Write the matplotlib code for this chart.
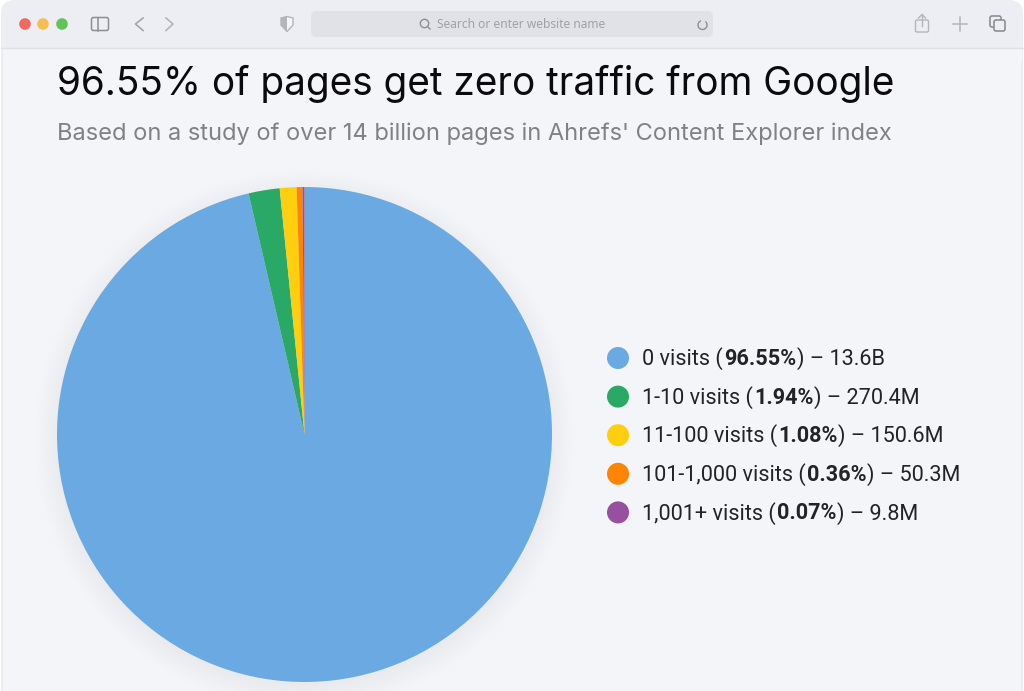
import matplotlib
matplotlib.use("Agg")
import matplotlib.pyplot as plt
from matplotlib.patches import Arc, Circle, FancyBboxPatch, Rectangle, Polygon

# Data
buckets = ["0 visits", "1-10 visits", "11-100 visits", "101-1,000 visits", "1,001+ visits"]
# wedge sizes as measured on the drawn pie, slightly off the printed labels
shares = [96.37, 2.03, 1.09, 0.38, 0.13]
share_labels = ["96.55%", "1.94%", "1.08%", "0.36%", "0.07%"]
page_counts = ["13.6B", "270.4M", "150.6M", "50.3M", "9.8M"]
colors = ["#6AA9E2", "#2AA866", "#FFCE0E", "#FF8400", "#96509F"]

title = "96.55% of pages get zero traffic from Google"
subtitle = "Based on a study of over 14 billion pages in Ahrefs' Content Explorer index"

W, H = 1024, 691
fig = plt.figure(figsize=(W / 100, H / 100), dpi=100, facecolor="white")

# Overlay in pixel coordinates for the window, texts and legend
bg = fig.add_axes([0, 0, 1, 1])
bg.set_xlim(0, W)
bg.set_ylim(H, 0)
bg.axis("off")

# Browser window
bg.add_patch(FancyBboxPatch((2, 2), W - 4, H + 30, boxstyle="round,pad=0,rounding_size=14",
                            fc="#F4F5F8", ec="#E6E7EB", lw=1))
bg.add_patch(FancyBboxPatch((1, 0), W - 2, 60, boxstyle="round,pad=0,rounding_size=14",
                            fc="#EDEEF3", ec="none"))
bg.add_patch(Rectangle((2.5, 48), W - 5, 14, fc="#F4F5F8", ec="none"))
bg.plot([1, W - 1], [48, 48], color="#E0E1E5", lw=1)

# Traffic lights
for x, c in zip([25, 43, 62], ["#EE6A5F", "#F5BE4F", "#61C454"]):
    bg.add_patch(Circle((x, 24), 5.8, fc=c, ec="none"))

icon = "#8E8F94"
light = "#B4B5BA"
# Sidebar icon
bg.add_patch(FancyBboxPatch((91.5, 17.5), 17, 13, boxstyle="round,pad=0,rounding_size=2",
                            fc="none", ec=icon, lw=1.1))
bg.plot([98, 98], [17.5, 30.5], color=icon, lw=1.1)
# Back and forward
bg.plot([143, 135.5, 143], [18, 24, 30.5], color="#A5A6AB", lw=1.2)
bg.plot([166, 173, 166], [18, 24, 30.5], color=light, lw=1.2)
# Shield
bg.add_patch(Polygon([(281, 18), (287, 16.5), (293, 18), (293, 25), (287, 31.5), (281, 25)],
                     fc="#F4F5F8", ec=light, lw=1))
bg.add_patch(Polygon([(281, 18), (287, 16.5), (287, 31.5), (281, 25)], fc=light, ec="none"))
# Address bar
bg.add_patch(FancyBboxPatch((311, 11), 402, 26, boxstyle="round,pad=0,rounding_size=5",
                            fc="#E1E2E7", ec="none"))
bg.add_patch(Circle((424.5, 23.5), 4.2, fc="none", ec=icon, lw=1))
bg.plot([427.5, 430], [26.5, 29], color=icon, lw=1)
bg.text(437, 24.5, "Search or enter website name", fontsize=8.6, color="#A0A1A6",
        family="Noto Sans", va="center", ha="left")
bg.add_patch(Arc((702.5, 25), 9, 9, theta1=-50, theta2=250, ec=icon, lw=1))
# Share, plus, tabs
bg.add_patch(FancyBboxPatch((915.5, 20), 13, 12, boxstyle="round,pad=0,rounding_size=1.5",
                            fc="none", ec=light, lw=1))
bg.plot([922, 922], [14, 26], color=light, lw=1)
bg.plot([918.5, 922, 925.5], [18, 14.5, 18], color=light, lw=1)
bg.plot([953, 967], [24, 24], color=light, lw=1.1)
bg.plot([960, 960], [17, 31], color=light, lw=1.1)
bg.add_patch(FancyBboxPatch((990, 16), 11, 11, boxstyle="round,pad=0,rounding_size=2",
                            fc="none", ec=icon, lw=1.2))
bg.add_patch(FancyBboxPatch((994, 20), 11, 11, boxstyle="round,pad=0,rounding_size=2",
                            fc="#EDEEF3", ec=icon, lw=1.2))

# Headings
bg.text(57, 83.5, title, fontsize=27.9, color="#0B0B0D", family="Inter", va="center", ha="left")
bg.text(57, 134, subtitle, fontsize=17, color="#7F8184", family="Inter", va="center", ha="left")

# Soft shadow below the pie
cx, cy, r = 304.5, 434.5, 247.5
for i in range(12):
    bg.add_patch(Circle((cx, cy + 5), r + 22 - i * 2.4, fc="#000000", alpha=0.0035, ec="none"))

# Pie
ax = fig.add_axes([(cx - r) / W, 1 - (cy + r) / H, 2 * r / W, 2 * r / H])
ax.pie(shares, colors=colors, startangle=90, counterclock=False, radius=1,
       wedgeprops={"linewidth": 0})
ax.set_xlim(-1, 1)
ax.set_ylim(-1, 1)

# Legend with bold shares, built piece by piece
fig.canvas.draw()
renderer = fig.canvas.get_renderer()
y0, step = 358, 38.6
for i in range(len(buckets)):
    y = y0 + i * step
    bg.add_patch(Circle((618, y), 11, fc=colors[i], ec="none"))
    x = 642
    parts = [(buckets[i] + " (", "normal"), (share_labels[i], "bold"),
             (") – " + page_counts[i], "normal")]
    for s, weight in parts:
        t = bg.text(x, y + 7, s, fontsize=15.6, color="#222326", family="Roboto",
                    fontweight=weight, va="baseline", ha="left")
        x += t.get_window_extent(renderer).width + 1

fig.savefig("out.png", dpi=100, facecolor="white")
